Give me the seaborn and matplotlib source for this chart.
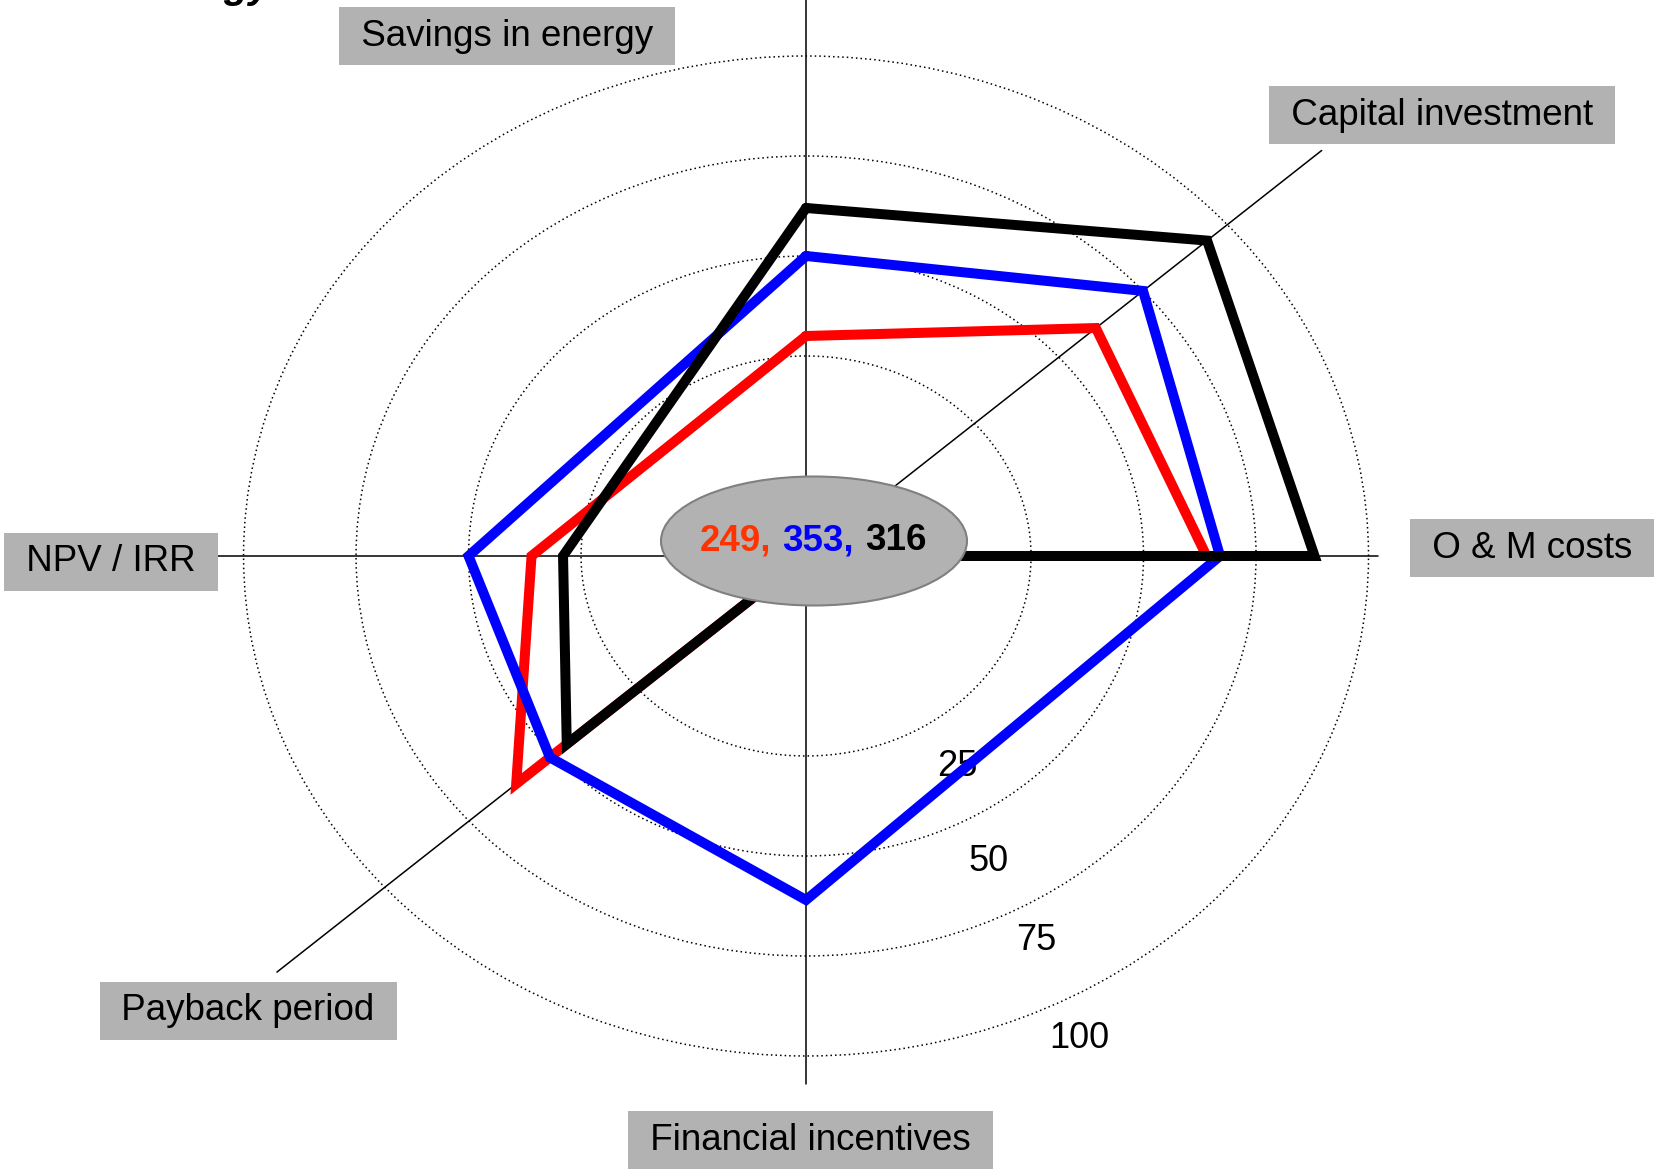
import numpy as np
import pandas as pd
import seaborn as sns
import matplotlib.pyplot as plt
from matplotlib.patches import Ellipse

# ------------------------------------------------------------
# Data (ring scale 25..100, -25 = centre)
# ------------------------------------------------------------
categories = ["Savings in energy", "Capital investment", "O & M costs",
              "Financial incentives", "Payback period", "NPV / IRR"]
red_vals = [30, 61, 64, -25, 61, 36]
blue_vals = [50, 75, 67, 61, 51, 50]
black_vals = [62, 94, 88, -25, 46, 29]
totals = ["249,", "353,", "316"]
ring_ticks = [25, 50, 75, 100]

# direction of every spoke on the chart (degrees)
spoke_deg = [90, 41.5, 0, -90, -138.5, 180]
spoke_len = [118, 128, 102, 107, 132, 106]

sns.set_theme(style="white")
plt.rcParams["font.family"] = ["Liberation Sans", "DejaVu Sans"]
plt.rcParams["text.color"] = "black"

fig = plt.figure(figsize=(16.58, 11.7), dpi=100)
ax = fig.add_axes([0.0519, -0.0222, 0.8685, 1.094], projection="polar")
ax.set_aspect("auto")          # stretch the circles into ellipses
ax.set_ylim(-25, 135)
ax.set_facecolor("none")

theta = np.radians(spoke_deg)

# spokes
for t, L in zip(theta, spoke_len):
    ax.plot([t, t], [-25, L], color="black", lw=1.1, zorder=1)

# dotted rings
ax.set_yticks(ring_ticks)
ax.set_yticklabels([])
ax.set_xticks([])
ax.yaxis.grid(True, linestyle=(0, (1, 2)), color="black", lw=1.1)
ax.xaxis.grid(False)
ax.spines["polar"].set_visible(False)

tick_pos = [(-57.5, 37.5), (-62, 61.6), (-62, 84), (-63.3, 110)]
for v, (a, r) in zip(ring_ticks, tick_pos):
    ax.text(np.radians(a), r, str(v), fontsize=26, ha="center",
            va="center", zorder=1)

# series
rows = []
for name, vals in [("red", red_vals), ("blue", blue_vals), ("black", black_vals)]:
    for i, (t, v) in enumerate(zip(list(theta) + [theta[0]], vals + [vals[0]])):
        rows.append({"series": name, "order": i, "theta": t, "value": v})
df = pd.DataFrame(rows)

colors = {"red": "#ff0000", "blue": "#0000ff", "black": "#000000"}
for name in ["red", "blue", "black"]:
    sub = df[df.series == name]
    sns.lineplot(data=sub, x="theta", y="value", sort=False, estimator=None,
                 color=colors[name], lw=7.2, ax=ax, zorder=3)
    ax.lines[-1].set_solid_joinstyle("miter")
ax.set_xlabel("")
ax.set_ylabel("")

# centre ellipse with totals
fig.add_artist(Ellipse((814 / 1658, 1 - 541 / 1170), 306 / 1658, 129 / 1170,
                       transform=fig.transFigure, facecolor="#b2b2b2",
                       edgecolor="#808080", lw=1.5, zorder=5))
for txt, x, c in zip(totals, [700, 782, 865], ["#ff3300", "#0000ff", "#000000"]):
    fig.text(x / 1658, 1 - 541 / 1170, txt, color=c, fontsize=26.5,
             fontweight="bold", ha="left", va="center", zorder=6)

# category labels in grey boxes
label_pos = [(0.3058, 0.9692), (0.8697, 0.9017), (0.924, 0.5316),
             (0.4889, 0.0256), (0.1496, 0.1359), (0.067, 0.5197)]
for lab, (x, y) in zip(categories, label_pos):
    fig.text(x, y, " " + lab + " ", fontsize=26.5, ha="center", va="center",
             bbox=dict(boxstyle="square,pad=0.32", fc="#b2b2b2", ec="none"),
             zorder=6)

# title cut off by the top edge of the slide (only its lowest pixels show)
fig.text(112 / 1658, 1171 / 1170, "Green", color="#33cc33", fontsize=29,
         fontweight="bold", style="italic", ha="right", va="baseline")
fig.text(272 / 1658, 1172 / 1170, "energy", color="black", fontsize=29,
         fontweight="bold", style="italic", ha="right", va="baseline")

plt.savefig("out.png", dpi=100)
